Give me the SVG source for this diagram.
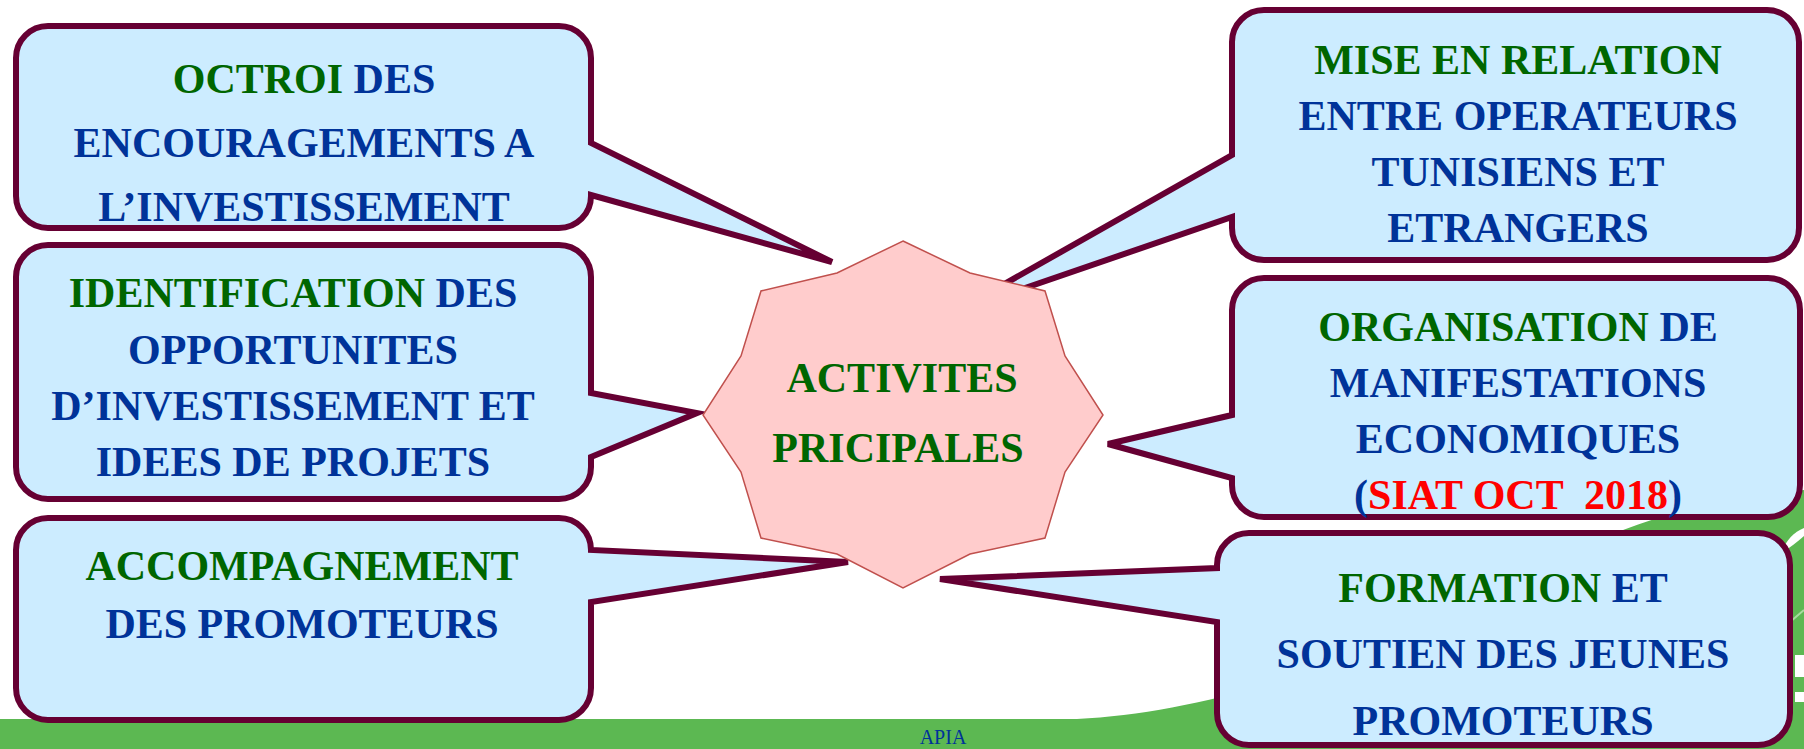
<svg xmlns="http://www.w3.org/2000/svg" width="1804" height="749" viewBox="0 0 1804 749">
<style>
.co{fill:#CCECFF;stroke:#660033;stroke-width:6;stroke-linejoin:miter}
.t{font-family:"Liberation Serif","Times New Roman",serif;font-weight:bold;font-size:42px;text-anchor:middle;fill:#003399}
.g{fill:#006600}
.r{fill:#FF0000}
</style>
<rect x="0" y="0" width="1804" height="749" fill="#FFFFFF"/>
<g id="background">
<path d="M0,719 L1077,719 C1230,712 1420,640 1560,560 C1620,525 1700,500 1804,490 L1804,749 L0,749 Z" fill="#5CB852"/>
<path d="M1782,552 C1786,540 1794,532 1804,528 L1804,536 C1797,542 1790,548 1782,552 Z" fill="#FFFFFF"/>
<path d="M1790,622 L1804,610" stroke="#A8DBA0" stroke-width="2"/>
<rect x="1795" y="655" width="9" height="22" fill="#FFFFFF"/>
<rect x="1795" y="692" width="9" height="10" fill="#FFFFFF"/>
<text x="943" y="744" font-family="Liberation Serif, serif" font-size="20" fill="#003399" text-anchor="middle">APIA</text>
</g>
<g id="node-octroi">
<path class="co" d="M48,26 H559 A32,32 0 0 1 591,58 V143 L832,262 L591,195 V196 A32,32 0 0 1 559,228 H48 A32,32 0 0 1 16,196 V58 A32,32 0 0 1 48,26 Z"/>
<text class="t" x="304" y="93"><tspan class="g">OCTROI</tspan> DES</text>
<text class="t" x="304" y="157">ENCOURAGEMENTS A</text>
<text class="t" x="304" y="221">L’INVESTISSEMENT</text>
</g>
<g id="node-identification">
<path class="co" d="M48,245 H559 A32,32 0 0 1 591,277 V393 L697,413 L591,457 V467 A32,32 0 0 1 559,499 H48 A32,32 0 0 1 16,467 V277 A32,32 0 0 1 48,245 Z"/>
<text class="t" x="293" y="307"><tspan class="g">IDENTIFICATION</tspan> DES</text>
<text class="t" x="293" y="364">OPPORTUNITES</text>
<text class="t" x="293" y="420">D’INVESTISSEMENT ET</text>
<text class="t" x="293" y="476">IDEES DE PROJETS</text>
</g>
<g id="node-accompagnement">
<path class="co" d="M48,518 H559 A32,32 0 0 1 591,550 L848,562 L591,602 V688 A32,32 0 0 1 559,720 H48 A32,32 0 0 1 16,688 V550 A32,32 0 0 1 48,518 Z"/>
<text class="t g" x="302" y="580">ACCOMPAGNEMENT</text>
<text class="t" x="302" y="638">DES PROMOTEURS</text>
</g>
<g id="node-mise-en-relation">
<path class="co" d="M1264,10 H1767 A32,32 0 0 1 1799,42 V228 A32,32 0 0 1 1767,260 H1264 A32,32 0 0 1 1232,228 V217 L955,312 L1232,155 V42 A32,32 0 0 1 1264,10 Z"/>
<text class="t g" x="1518" y="74">MISE EN RELATION</text>
<text class="t" x="1518" y="130">ENTRE OPERATEURS</text>
<text class="t" x="1518" y="186">TUNISIENS ET</text>
<text class="t" x="1518" y="242">ETRANGERS</text>
</g>
<g id="node-organisation">
<path class="co" d="M1264,278 H1768 A32,32 0 0 1 1800,310 V485 A32,32 0 0 1 1768,517 H1264 A32,32 0 0 1 1232,485 V478 L1108,444 L1232,415 V310 A32,32 0 0 1 1264,278 Z"/>
<text class="t" x="1518" y="341"><tspan class="g">ORGANISATION</tspan> DE</text>
<text class="t" x="1518" y="397">MANIFESTATIONS</text>
<text class="t" x="1518" y="453">ECONOMIQUES</text>
<text class="t" x="1518" y="509" xml:space="preserve">(<tspan class="r">SIAT OCT  2018</tspan>)</text>
</g>
<g id="node-formation">
<path class="co" d="M1249,533 H1758 A32,32 0 0 1 1790,565 V713 A32,32 0 0 1 1758,745 H1249 A32,32 0 0 1 1217,713 V622 L940,579 L1217,568 V565 A32,32 0 0 1 1249,533 Z"/>
<text class="t" x="1503" y="602"><tspan class="g">FORMATION</tspan> ET</text>
<text class="t" x="1503" y="668">SOUTIEN DES JEUNES</text>
<text class="t" x="1503" y="735">PROMOTEURS</text>
</g>
<g id="node-activites">
<polygon points="903,241 970,273 1045,291 1065,356 1103,415 1065,472 1045,538 970,554 903,588 837,554 761,538 741,472 703,415 741,356 761,291 837,273" fill="#FFCCCC" stroke="#C0504D" stroke-width="1.5"/>
<text class="t g" x="902" y="392">ACTIVITES</text>
<text class="t g" x="898" y="462">PRICIPALES</text>
</g>
</svg>
